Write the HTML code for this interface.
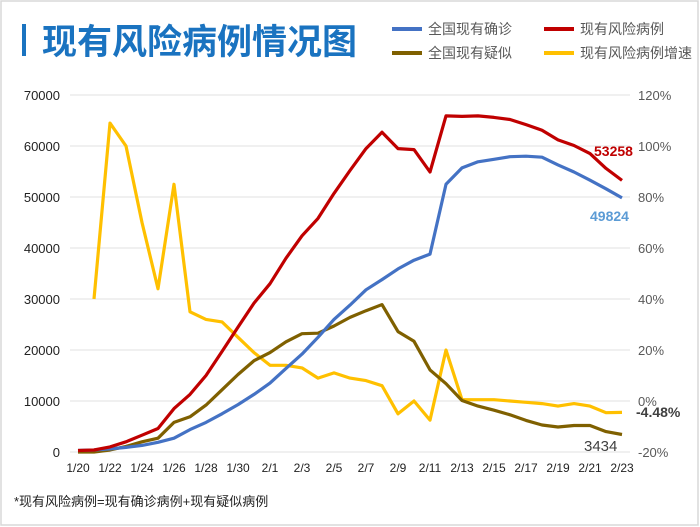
<!DOCTYPE html>
<html><head><meta charset="utf-8"><style>
body{margin:0;background:#fff;}
#wrap{position:relative;width:700px;height:527px;overflow:hidden;font-family:"Liberation Sans","Noto Sans CJK SC",sans-serif;}
</style></head><body>
<div id="wrap">
<svg id="chart" width="700" height="527"></svg>
</div>
<script>
const dates=["1/20","1/21","1/22","1/23","1/24","1/25","1/26","1/27","1/28","1/29","1/30","1/31","2/1","2/2","2/3","2/4","2/5","2/6","2/7","2/8","2/9","2/10","2/11","2/12","2/13","2/14","2/15","2/16","2/17","2/18","2/19","2/20","2/21","2/22","2/23"];
const confirmed=[300,400,600,900,1300,1900,2700,4400,5800,7500,9300,11300,13500,16400,19200,22500,26000,28800,31800,33800,35900,37600,38800,52500,55700,56900,57400,57900,58000,57800,56300,54900,53300,51600,49824];
const suspected=[0,0,400,1100,2000,2700,5800,6900,9200,12200,15200,17900,19500,21600,23200,23300,24700,26400,27700,28900,23600,21700,16100,13400,10100,9000,8200,7300,6200,5300,4900,5200,5200,4000,3434];
const risk=[300,400,1000,2000,3300,4600,8500,11300,15000,19700,24500,29200,33000,38000,42400,45800,50700,55200,59500,62700,59500,59300,54900,65900,65800,65900,65600,65200,64200,63100,61200,60100,58500,55600,53258];
const growth=[null,40,109,100,70,44,85,35,32,31,25,19,14,14,13,9,11,9,8,6,-5,0,-7.5,20,0.5,0.5,0.5,0,-0.5,-1,-2,-1,-2,-4.6,-4.48];
const leftTicks=[0,10000,20000,30000,40000,50000,60000,70000];
const rightTicks=["-20%","0%","20%","40%","60%","80%","100%","120%"];
const NS="http://www.w3.org/2000/svg";
const svg=document.getElementById('chart');
const X0=78,X1=622,Y0=452,Y1=95;
const x=i=>X0+(X1-X0)*i/(dates.length-1);
const yL=v=>Y0-(Y0-Y1)*v/70000;
const yR=p=>Y0-(Y0-Y1)*(p+20)/140;
function el(t,a,txt){const e=document.createElementNS(NS,t);for(const k in a)e.setAttribute(k,a[k]);if(txt!=null)e.textContent=txt;svg.appendChild(e);return e;}
let e=el('rect',{x:1,y:1,width:697,height:524,fill:'none',stroke:'#d8d8d8','stroke-width':1.5});

e=el('rect',{x:22,y:24,width:4,height:32,fill:'#1a73c0'});

e=el('text',{x:42,y:54,'font-size':35,'font-weight':'bold',fill:'#1a73c0'},'现有风险病例情况图');

const legend=[["全国现有确诊","#4472c4",392,33],["现有风险病例","#c00000",544,33],["全国现有疑似","#7f6000",392,57],["现有风险病例增速","#ffc000",544,57]];
legend.forEach(l=>{
 let a=el('line',{x1:l[2],y1:l[3]-4,x2:l[2]+30,y2:l[3]-4,stroke:l[1],'stroke-width':4});
 
 let b=el('text',{x:l[2]+36,y:l[3]+1,'font-size':14,fill:'#595959'},l[0]);
 
});
leftTicks.forEach((v,i)=>{
 let g=el('line',{x1:70,x2:630,y1:yL(v),y2:yL(v),stroke:'#e0e0e0','stroke-width':1});
 
 let t=el('text',{x:60,y:yL(v)+5,'font-size':13,'text-anchor':'end',fill:'#222'},String(v));
 
 let r=el('text',{x:638,y:yL(v)+5,'font-size':13,fill:'#595959'},rightTicks[i]);
 
});
dates.forEach((d,i)=>{if(i%2===0){
 let t=el('text',{x:x(i),y:472,'font-size':12,'text-anchor':'middle',fill:'#222'},d);
 }});
function line(arr,fy,color,name){
 let d='';let started=false;
 arr.forEach((v,i)=>{if(v==null)return;d+=(started?'L':'M')+x(i).toFixed(1)+','+fy(v).toFixed(1);started=true;});
 let p=el('path',{d:d,fill:'none',stroke:color,'stroke-width':3.2,'stroke-linejoin':'round'});
 
}
line(growth,yR,'#ffc000','growth-line');
line(suspected,yL,'#7f6000','suspected-line');
line(confirmed,yL,'#4472c4','confirmed-line');
line(risk,yL,'#c00000','risk-line');
const n=dates.length-1;
e=el('text',{x:594,y:156,'font-size':14,'font-weight':'bold',fill:'#c00000'},String(risk[n]));

e=el('text',{x:590,y:221,'font-size':14,'font-weight':'bold',fill:'#5b9bd5'},String(confirmed[n]));

e=el('text',{x:636,y:417,'font-size':14,'font-weight':'bold',fill:'#404040'},growth[n].toFixed(2)+'%');

e=el('text',{x:584,y:451,'font-size':15,fill:'#404040'},String(suspected[n]));

e=el('text',{x:14,y:506,'font-size':13,fill:'#222'},'*现有风险病例=现有确诊病例+现有疑似病例');

</script>
</body></html>
